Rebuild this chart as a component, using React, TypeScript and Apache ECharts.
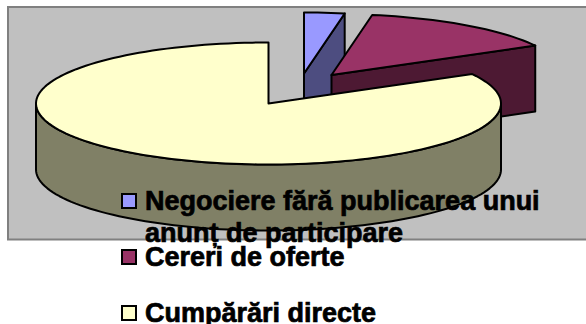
import React, { useEffect, useRef } from "react";
import * as echarts from "echarts";

const categories = ["Negociere fără publicarea unui\nanunț de participare", "Cereri de oferte", "Cumpărări directe"];
const shares = [2.8, 14.2, 83];

const topColors = ["#9999FF", "#993366", "#FFFFCC"];
const sideColors = ["#4D4D80", "#4D1933", "#808066"];
const sliceCenters = [[304, 73.5], [331.5, 75], [268.5, 103.5]];
const legendSwatchTops = [194, 250, 306];
const legendTextTops = [200.5, 257, 312.5];

const RX = 232.5, RY = 61, DEPTH = 66, START = 90;
const STROKE = { stroke: "#000", lineWidth: 2, lineJoin: "round" as const };

const total = shares.reduce((a, b) => a + b, 0);
const rad = (d: number) => (d * Math.PI) / 180;

function renderSlice(params: any, api: any) {
  const i = params.dataIndex;
  const before = shares.slice(0, i).reduce((a, b) => a + b, 0);
  const from = START - (before / total) * 360;          // counter-clockwise edge
  const to = from - (api.value(0) / total) * 360;       // clockwise edge
  const [cx, cy] = sliceCenters[i];
  const pt = (a: number, d = 0) => [cx + RX * Math.cos(rad(a)), cy - RY * Math.sin(rad(a)) + d];
  const arc = (a0: number, a1: number, d = 0) => {
    const n = Math.max(2, Math.ceil(Math.abs(a1 - a0) / 2));
    const out: number[][] = [];
    for (let k = 0; k <= n; k++) out.push(pt(a0 + ((a1 - a0) * k) / n, d));
    return out;
  };
  const children: any[] = [];
  const poly = (points: number[][], fill: string) =>
    children.push({ type: "polygon", shape: { points }, style: { fill, ...STROKE } });

  // radial wall on the clockwise edge, visible when it faces the viewer
  if (Math.cos(rad(to)) > 1e-6) {
    poly([[cx, cy], pt(to), pt(to, DEPTH), [cx, cy + DEPTH]], sideColors[i]);
  }
  // radial wall on the counter-clockwise edge
  if (Math.cos(rad(from)) < -1e-6) {
    poly([[cx, cy], pt(from), pt(from, DEPTH), [cx, cy + DEPTH]], sideColors[i]);
  }
  // outer rim, front half only
  for (const shift of [0, -360]) {
    const a0 = Math.min(from + shift, -0);
    const a1 = Math.max(to + shift, -180);
    if (a0 > a1) {
      poly([...arc(a0, a1), ...arc(a1, a0, DEPTH)], sideColors[i]);
    }
  }
  // top face
  poly([[cx, cy], ...arc(from, to)], topColors[i]);
  return { type: "group", children };
}

export default function App() {
  const ref = useRef<HTMLDivElement>(null);
  useEffect(() => {
    const chart = echarts.init(ref.current!, undefined, { renderer: "svg" });
    const FONT = {
      fontFamily: "Liberation Sans",
      fontWeight: "bold" as const,
      fontSize: 27,
      fill: "#000",
      stroke: "#000",
      lineWidth: 0.7,
    };
    chart.setOption({
      animation: false,
      backgroundColor: "#fff",
      series: [
        {
          type: "custom",
          coordinateSystem: "none",
          z: 2,
          clip: false,
          silent: true,
          data: shares.map((v, i) => ({ name: categories[i], value: [v] })),
          renderItem: renderSlice,
        },
      ],
      graphic: {
        elements: [
          {
            type: "rect",
            z: -1,
            shape: { x: 8, y: 7, width: 600, height: 232.5 },
            style: { fill: "#C0C0C0", stroke: "#808080", lineWidth: 2 },
          },
          ...categories.flatMap((c, i) => [
            {
              type: "rect",
              z: 10,
              shape: { x: 122, y: legendSwatchTops[i], width: 14, height: 14 },
              style: { fill: topColors[i], stroke: "#000", lineWidth: 2 },
            },
            {
              type: "text",
              z: 10,
              x: 145,
              y: legendTextTops[i] - 16,
              style: { text: c, ...FONT, lineHeight: 32 },
            },
          ]),
        ],
      },
    });
    return () => chart.dispose();
  }, []);
  return <div ref={ref} style={{ position: "absolute", left: 0, top: 0, width: 586, height: 324 }} />;
}
